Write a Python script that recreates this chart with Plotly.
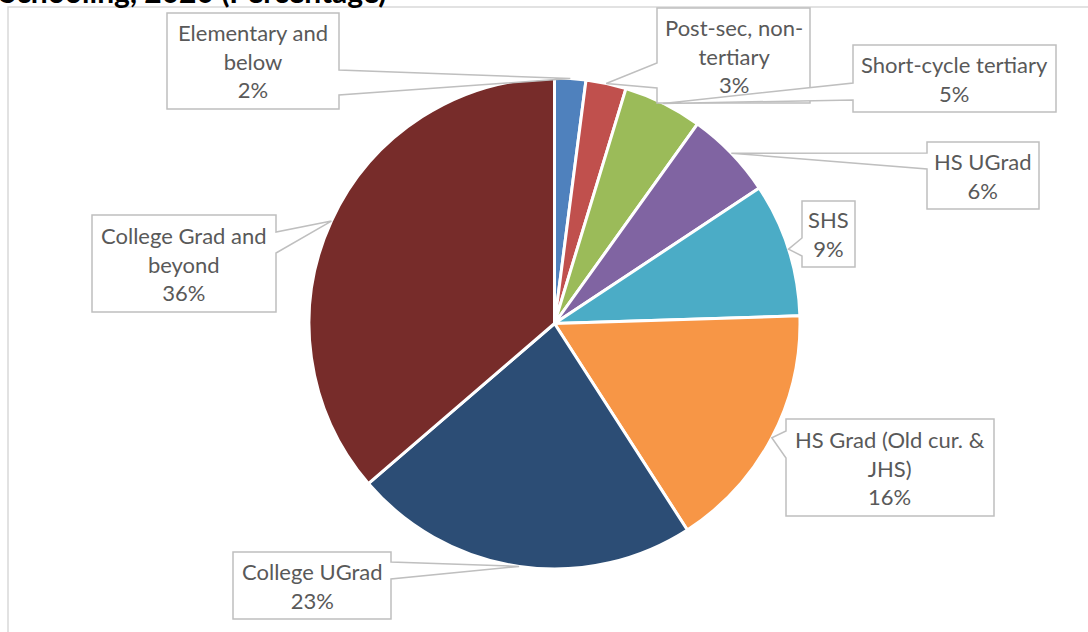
import numpy as np
import plotly.graph_objects as go

# data (share of total, %)
labels = ["Elementary and below", "Post-sec, non-tertiary", "Short-cycle tertiary",
          "HS UGrad", "SHS", "HS Grad (Old cur. & JHS)", "College UGrad",
          "College Grad and beyond"]
values = [2.05, 2.65, 5.2, 5.8, 8.8, 16.4, 22.8, 36.3]
box_text = ["Elementary and<br>below", "Post-sec, non-<br>tertiary", "Short-cycle tertiary",
            "HS UGrad", "SHS", "HS Grad (Old cur. &<br>JHS)", "College UGrad",
            "College Grad and<br>beyond"]
colors = ["#4F81BD", "#C0504D", "#9BBB59", "#8064A2", "#4BACC6", "#F79646",
          "#2C4D75", "#772C2A"]

W, H = 1088, 632
CX, CY, R = 554.5, 323.5, 245.5

# callout boxes in screen pixels: (x0, y0, x1, y1, side, base_a, base_b)
callouts = [
    (167, 13, 339, 109, "right", 70, 95),
    (657, 8, 810, 103, "left", 63, 88),
    (853, 45, 1056, 112, "left", 83, 100),
    (927, 142, 1039, 209, "left", 153, 169),
    (802, 201, 855, 267, "left", 238, 256),
    (786, 419, 994, 516, "left", 431, 458),
    (233, 552, 391, 619, "right", 562, 579),
    (92, 215, 276, 312, "right", 232, 253),
]

fig = go.Figure()
fig.add_trace(go.Pie(
    labels=labels,
    values=values,
    sort=False,
    direction="clockwise",
    rotation=0,
    marker=dict(colors=colors, line=dict(color="white", width=3)),
    textinfo="none",
    hoverinfo="label+percent",
    showlegend=False,
    domain=dict(x=[(CX - R) / W, (CX + R) / W],
                y=[1 - (CY + R) / H, 1 - (CY - R) / H]),
))

# invisible pixel axes for the callouts
fig.add_trace(go.Scatter(x=[0, W], y=[0, H], mode="markers",
                         marker=dict(opacity=0), hoverinfo="skip", showlegend=False))

vals = np.array(values)
pct = vals / vals.sum()
mid = (np.cumsum(pct) - pct / 2) * 2 * np.pi

shapes = [dict(type="rect", xref="x", yref="y", x0=8, y0=7, x1=W + 20, y1=H + 20,
               line=dict(color="#D9D9D9", width=1.5), fillcolor="rgba(0,0,0,0)", layer="below")]
annotations = []
for i, (x0, y0, x1, y1, side, ba, bb) in enumerate(callouts):
    tx = CX + R * np.sin(mid[i])
    ty = CY - R * np.cos(mid[i])
    if side == "left":
        path = (f"M {x0},{y0} L {x1},{y0} L {x1},{y1} L {x0},{y1} L {x0},{bb} "
                f"L {tx:.1f},{ty:.1f} L {x0},{ba} Z")
    else:
        path = (f"M {x0},{y0} L {x1},{y0} L {x1},{ba} L {tx:.1f},{ty:.1f} L {x1},{bb} "
                f"L {x1},{y1} L {x0},{y1} Z")
    shapes.append(dict(type="path", xref="x", yref="y", path=path,
                       line=dict(color="#BFBFBF", width=1.5), fillcolor="white"))
    annotations.append(dict(
        xref="x", yref="y", x=(x0 + x1) / 2, y=(y0 + y1) / 2,
        text=f"{box_text[i]}<br>{round(pct[i] * 100):.0f}%",
        showarrow=False, xanchor="center", yanchor="middle",
        font=dict(family="Lato, sans-serif", size=22, color="#595959"),
    ))

# chart title, cut off at the top edge as in the source
annotations.append(dict(
    xref="x", yref="y", x=388, y=11, xanchor="right", yanchor="bottom",
    text="<b>Highest Level of Schooling, 2020 (Percentage)</b>", showarrow=False,
    font=dict(family="Lato, sans-serif", size=30, color="black"),
))

fig.update_layout(
    width=W, height=H,
    margin=dict(l=0, r=0, t=0, b=0),
    paper_bgcolor="white",
    plot_bgcolor="rgba(0,0,0,0)",
    xaxis=dict(range=[0, W], visible=False, fixedrange=True),
    yaxis=dict(range=[H, 0], visible=False, fixedrange=True),
    shapes=shapes,
    annotations=annotations,
)

fig.write_html("out.html", config={"displayModeBar": False},
               post_script="document.body.style.margin='0';document.body.style.overflow='hidden';")
